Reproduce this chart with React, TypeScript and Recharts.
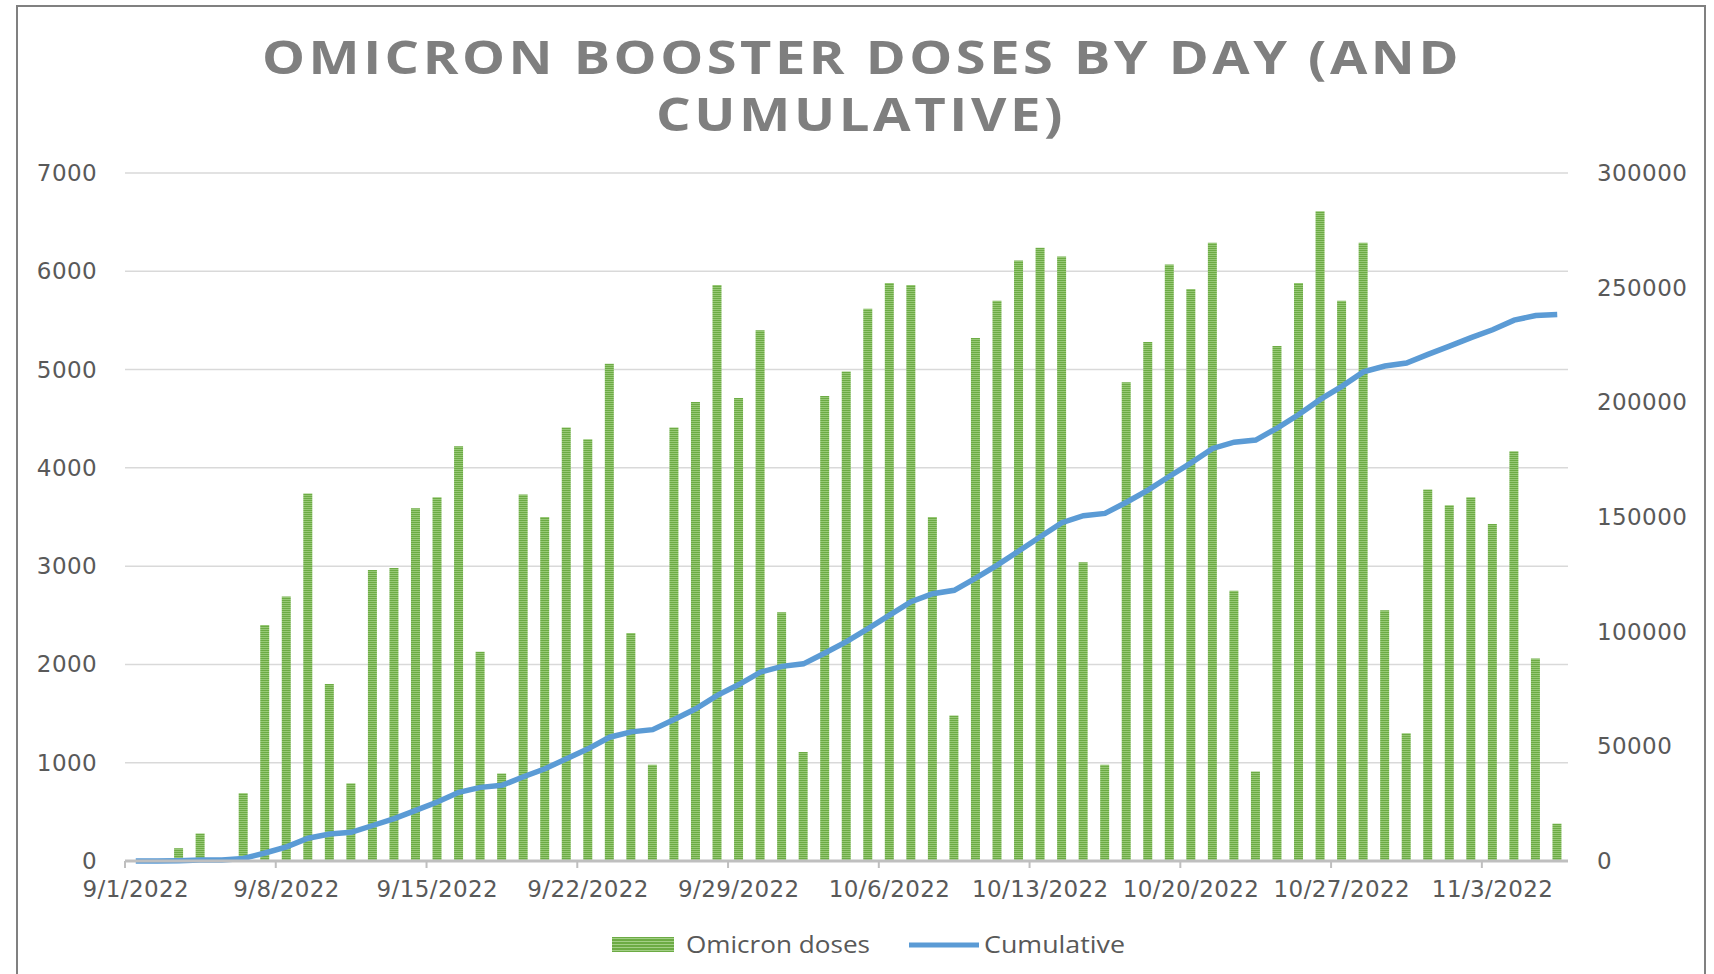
import React from 'react';
import { ComposedChart, Bar, Line, XAxis, YAxis, CartesianGrid } from 'recharts';

const dates: string[] = [
  '9/1/2022', '9/2/2022', '9/3/2022', '9/4/2022', '9/5/2022', '9/6/2022', '9/7/2022', '9/8/2022', '9/9/2022', '9/10/2022',
  '9/11/2022', '9/12/2022', '9/13/2022', '9/14/2022', '9/15/2022', '9/16/2022', '9/17/2022', '9/18/2022', '9/19/2022', '9/20/2022',
  '9/21/2022', '9/22/2022', '9/23/2022', '9/24/2022', '9/25/2022', '9/26/2022', '9/27/2022', '9/28/2022', '9/29/2022', '9/30/2022',
  '10/1/2022', '10/2/2022', '10/3/2022', '10/4/2022', '10/5/2022', '10/6/2022', '10/7/2022', '10/8/2022', '10/9/2022', '10/10/2022',
  '10/11/2022', '10/12/2022', '10/13/2022', '10/14/2022', '10/15/2022', '10/16/2022', '10/17/2022', '10/18/2022', '10/19/2022', '10/20/2022',
  '10/21/2022', '10/22/2022', '10/23/2022', '10/24/2022', '10/25/2022', '10/26/2022', '10/27/2022', '10/28/2022', '10/29/2022', '10/30/2022',
  '10/31/2022', '11/1/2022', '11/2/2022', '11/3/2022', '11/4/2022', '11/5/2022', '11/6/2022',
];

const omicronDoses: number[] = [
  0, 0, 130, 280, 0, 690, 2400, 2690, 3740, 1800,
  790, 2960, 2980, 3590, 3700, 4220, 2130, 890, 3730, 3500,
  4410, 4290, 5060, 2320, 980, 4410, 4670, 5860, 4710, 5400,
  2530, 1110, 4730, 4980, 5620, 5880, 5860, 3500, 1480, 5320,
  5700, 6110, 6240, 6150, 3040, 980, 4870, 5280, 6070, 5820,
  6290, 2750, 910, 5240, 5880, 6610, 5700, 6290, 2550, 1300,
  3780, 3620, 3700, 3430, 4170, 2060, 380,
];

const cumulative: number[] = [
  0, 0, 130, 410, 410, 1100, 3500, 6190, 9930, 11730,
  12520, 15480, 18460, 22050, 25750, 29970, 32100, 32990, 36720, 40220,
  44630, 48920, 53980, 56300, 57280, 61690, 66360, 72220, 76930, 82330,
  84860, 85970, 90700, 95680, 101300, 107180, 113040, 116540, 118020, 123340,
  129040, 135150, 141390, 147540, 150580, 151560, 156430, 161710, 167780, 173600,
  179890, 182640, 183550, 188790, 194670, 201280, 206980, 213270, 215820, 217120,
  220900, 224520, 228220, 231650, 235820, 237880, 238260,
];

const leftTicks: number[] = [0, 1000, 2000, 3000, 4000, 5000, 6000, 7000];
const rightTicks: number[] = [0, 50000, 100000, 150000, 200000, 250000, 300000];

const titleLines: string[] = ['OMICRON BOOSTER DOSES BY DAY (AND', 'CUMULATIVE)'];
const seriesNames: string[] = ['Omicron doses', 'Cumulative'];

const data = dates.map((d, i) => ({ date: d, doses: omicronDoses[i], cum: cumulative[i] }));

const W = 1714;
const H = 974;
const PLOT_LEFT = 125;
const PLOT_RIGHT = 1568;
const HALF_BAND = (PLOT_RIGHT - PLOT_LEFT) / dates.length / 2;
const LABEL_COLOR = '#595959';
const AXIS_FONT = 'DejaVu Sans, Verdana, sans-serif';
const AXIS_SIZE = 23;

const XTick = (props: any) => {
  const { x, y, payload } = props;
  return (
    <g>
      <line x1={x - HALF_BAND} x2={x - HALF_BAND} y1={y} y2={y + 7} stroke="#bfbfbf" strokeWidth={2} />
      <text x={x} y={y + 36} textAnchor="middle" fill={LABEL_COLOR} fontFamily={AXIS_FONT} fontSize={AXIS_SIZE} letterSpacing={0.4}>
        {payload.value}
      </text>
    </g>
  );
};

const LeftTick = (props: any) => {
  const { x, y, payload } = props;
  return (
    <text x={x} y={y + 8} textAnchor="end" fill={LABEL_COLOR} fontFamily={AXIS_FONT} fontSize={AXIS_SIZE} letterSpacing={0.4}>
      {payload.value}
    </text>
  );
};

const RightTick = (props: any) => {
  const { x, y, payload } = props;
  return (
    <text x={x} y={y + 8} textAnchor="start" fill={LABEL_COLOR} fontFamily={AXIS_FONT} fontSize={AXIS_SIZE} letterSpacing={0.4}>
      {payload.value}
    </text>
  );
};

export default function App() {
  return (
    <div style={{ position: 'absolute', left: 0, top: 0, width: W, height: H, overflow: 'hidden', background: '#ffffff' }}>
      <div
        style={{
          position: 'absolute',
          left: 16,
          top: 5,
          width: 1686,
          height: 1100,
          borderTop: '2px solid #808080',
          borderLeft: '2px solid #808080',
          borderRight: '2px solid #808080',
        }}
      />
      <ComposedChart
        width={W}
        height={H}
        data={data}
        margin={{ top: 173, right: 0, bottom: 73, left: 0 }}
        style={{ position: 'absolute', left: 0, top: 0 }}
      >
        <defs>
          <pattern id="greenStripes" width="4" height="2" patternUnits="userSpaceOnUse">
            <rect x="0" y="0" width="4" height="2" fill="#6cab44" />
            <rect x="0" y="1" width="4" height="1" fill="#97c876" />
          </pattern>
        </defs>
        <CartesianGrid yAxisId="left" vertical={false} stroke="#d9d9d9" strokeWidth={1.5} />
        <XAxis
          dataKey="date"
          type="category"
          interval={6}
          height={40}
          tickSize={0}
          tickMargin={0}
          tickLine={false}
          axisLine={{ stroke: '#bfbfbf', strokeWidth: 3 }}
          tick={<XTick />}
        />
        <YAxis
          yAxisId="left"
          orientation="left"
          width={125}
          domain={[0, 7000]}
          ticks={leftTicks}
          interval={0}
          axisLine={false}
          tickLine={false}
          tickSize={0}
          tickMargin={28}
          tick={<LeftTick />}
        />
        <YAxis
          yAxisId="right"
          orientation="right"
          width={146}
          domain={[0, 300000]}
          ticks={rightTicks}
          interval={0}
          axisLine={false}
          tickLine={false}
          tickSize={0}
          tickMargin={29}
          tick={<RightTick />}
        />
        <Bar yAxisId="left" dataKey="doses" name={seriesNames[0]} fill="url(#greenStripes)" barSize={9} isAnimationActive={false} />
        <Line
          yAxisId="right"
          dataKey="cum"
          name={seriesNames[1]}
          type="linear"
          stroke="#5b9bd5"
          strokeWidth={5.5}
          dot={false}
          activeDot={false}
          isAnimationActive={false}
        />
      </ComposedChart>
      <svg width={W} height={H} style={{ position: 'absolute', left: 0, top: 0, pointerEvents: 'none' }}>
        <defs>
          <pattern id="legendStripes" width="4" height="3" patternUnits="userSpaceOnUse">
            <rect x="0" y="0" width="4" height="3" fill="#6cab44" />
            <rect x="0" y="2" width="4" height="1" fill="#a3cf86" />
          </pattern>
        </defs>
        <text
          x={862}
          y={74}
          textAnchor="middle"
          fill="#7f7f7f"
          fontFamily="Open Sans, sans-serif"
          fontWeight={700}
          fontSize={46}
          letterSpacing={3}
          textLength={1200}
          lengthAdjust="spacingAndGlyphs"
        >
          {titleLines[0]}
        </text>
        <text
          x={861}
          y={131}
          textAnchor="middle"
          fill="#7f7f7f"
          fontFamily="Open Sans, sans-serif"
          fontWeight={700}
          fontSize={46}
          letterSpacing={3}
          textLength={410}
          lengthAdjust="spacingAndGlyphs"
        >
          {titleLines[1]}
        </text>
        <rect x={612} y={937} width={62} height={15} fill="url(#legendStripes)" />
        <text x={686} y={953} fill={LABEL_COLOR} fontFamily="Open Sans, sans-serif" fontSize={23} textLength={184} lengthAdjust="spacingAndGlyphs">
          {seriesNames[0]}
        </text>
        <line x1={909} x2={979} y1={945} y2={945} stroke="#5b9bd5" strokeWidth={5} />
        <text x={984} y={953} fill={LABEL_COLOR} fontFamily="Open Sans, sans-serif" fontSize={23} textLength={141} lengthAdjust="spacingAndGlyphs">
          {seriesNames[1]}
        </text>
      </svg>
    </div>
  );
}
